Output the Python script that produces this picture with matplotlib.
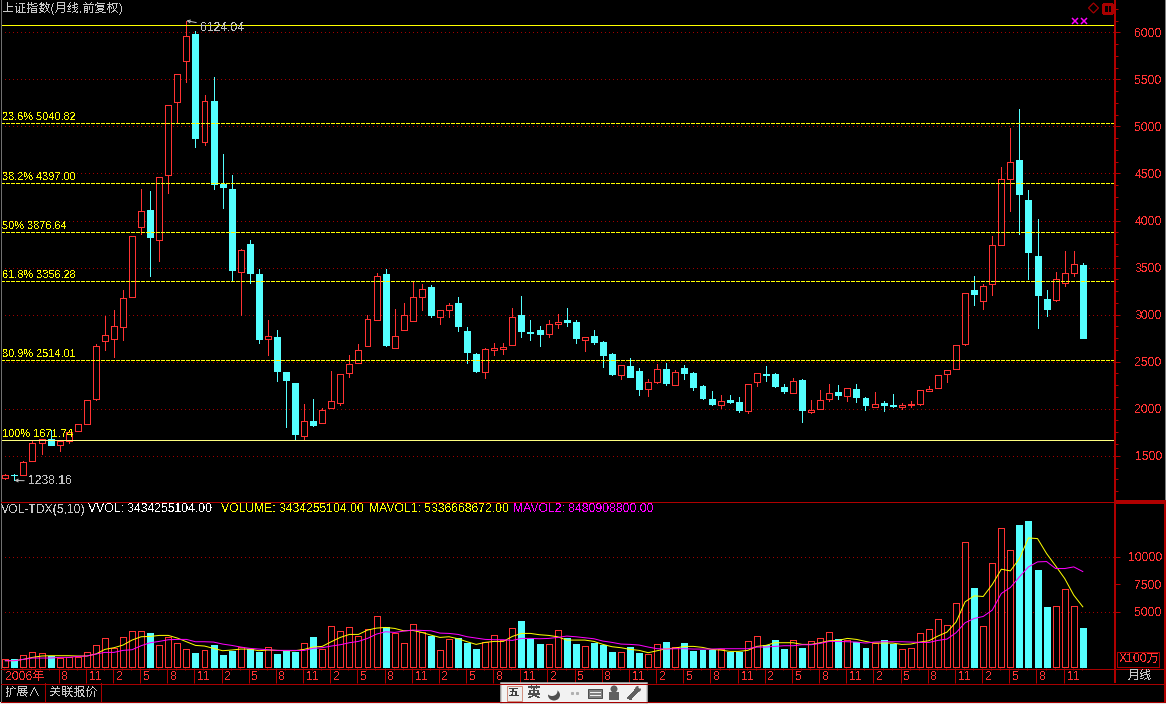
import matplotlib
matplotlib.use("Agg")
import matplotlib.pyplot as plt
from matplotlib.lines import Line2D
from matplotlib.patches import Rectangle, Ellipse, Circle, Polygon

OPEN = [1262,1300,1298,1447,1638,1680,1617,1659,1766,1840,2106,2723,2744,2872,3191,3932,4117,3798,4489,5255,
        5691,5982,4837,5269,4393,4333,3453,3748,3429,2741,2758,2386,2269,1712,1865,1847,2007,2060,2379,2485,
        2666,2946,3429,2645,2836,2932,3187,3290,2975,3049,3120,2822,2578,2390,2628,2634,2677,2992,2817,2833,
        2794,2900,2939,2918,2730,2769,2705,2578,2358,2450,2397,2209,2283,2418,2251,2429,2375,2237,2099,2039,
        2088,2067,1975,2283,2372,2365,2226,2166,2301,1964,1996,2106,2173,2134,2205,2109,2017,2056,2035,2021,
        2040,2049,2187,2219,2368,2421,2687,3258,3148,3326,3741,4443,4641,4216,3620,3163,3156,3336,3443,3531]
HIGH = [1306,1310,1440,1663,1680,1769,1670,1765,1840,2095,2691,2982,3046,3266,3840,4330,4312,4464,5223,5553,
        6124.04,6014,5333,5521,4705,4482,3695,3790,3489,2939,2833,2386,2269,2046,2099,2010,2397,2372,2567,2684,
        2993,3446,3482,3056,3120,3358,3322,3312,3053,3120,3184,2865,2595,2650,2695,2695,3067,3195,2939,2875,
        2939,3003,3067,2939,2765,2833,2716,2588,2468,2535,2429,2312,2471,2482,2407,2460,2386,2248,2184,2141,
        2141,2120,2266,2383,2450,2375,2258,2322,2311,2088,2195,2258,2248,2223,2258,2120,2173,2077,2152,2056,
        2077,2202,2237,2361,2414,2680,3234,3407,3322,3833,4567,4982,5184,4322,4014,3258,3450,3673,3673,3546]
LOW = [1258,1238.16,1298,1447,1514,1613,1549,1634,1766,1840,2088,2620,2549,2727,3191,3861,3407,3567,4294,5042,
       5475,4783,4801,4333,4134,3365,2993,3336,2698,2567,2294,1805,1664,1680,1815,1847,2007,2039,2336,2485,
       2666,2946,2663,2645,2836,2932,3046,2975,2897,2975,2822,2485,2386,2326,2567,2578,2677,2758,2726,2663,
       2758,2854,2875,2695,2609,2684,2439,2354,2312,2333,2141,2131,2269,2248,2251,2312,2195,2099,2035,2003,
       2056,1961,1953,2237,2290,2226,2163,2166,1854,1953,1996,2077,2099,2077,2067,1982,2017,1971,2014,1996,
       2014,2035,2187,2219,2280,2421,2677,3099,3056,3205,3741,4099,3854,3375,2854,2982,3141,3304,3407,2748]
CLOSE = [1298,1298,1436,1638,1673,1613,1659,1751,1840,2095,2670,2787,2883,3180,3840,4106,3826,4464,5223,5553,
         5957,4879,5266,4393,4358,3471,3691,3443,2741,2776,2400,2305,1730,1868,1822,1989,2085,2372,2475,2627,
         2957,3414,2673,2776,3000,3191,3276,2992,3053,3106,2875,2599,2397,2638,2640,2659,2978,2822,2807,2790,
         2904,2925,2918,2748,2765,2705,2567,2365,2468,2333,2205,2287,2425,2269,2393,2375,2226,2109,2046,2085,
         2067,1982,2266,2383,2362,2237,2184,2297,1982,1989,2095,2170,2141,2223,2120,2035,2053,2035,2024,2042,
         2046,2202,2212,2361,2414,2680,3234,3216,3308,3744,4446,4617,4280,3663,3205,3056,3382,3446,3542,2748]
VOLUME = [667,667,1030,1364,1212,1000,788,879,909,1364,1939,2576,1667,2667,3212,3212,3060,1970,2667,2121,
          1576,1242,1485,1970,1060,1454,1757,1606,1364,1757,1151,1394,1364,2121,2697,1606,3666,3212,3575,2757,
          3394,4575,3590,3060,2121,3878,3181,2787,1485,2485,2636,2181,1606,2272,2848,2394,3484,4151,2515,2060,
          2030,3303,2575,2060,1848,2151,2000,1333,1303,1757,1242,1121,2030,2242,1757,2151,1424,1515,1515,1575,
          1363,1333,2303,2757,1970,2424,1606,2394,1697,2303,2576,3121,2485,2424,2272,1697,2121,2424,2091,1576,
          1667,3030,3394,4303,3757,5757,11393,7151,3666,9484,12666,10666,12878,13241,8787,5424,5484,7121,5484,3515]
MAVOL1 = [545,545,667,848,970,1000,1000,1000,970,970,1151,1576,1727,1970,2424,2727,2757,2848,2848,2606,
          2272,1939,1879,1667,1454,1515,1606,1606,1454,1515,1485,1454,1454,1576,1788,1848,2272,2667,2939,2939,
          3333,3515,3575,3485,3272,3303,3121,2879,2666,2727,2545,2272,2030,2212,2303,2303,2757,3030,3030,2909,
          2848,2727,2424,2424,2424,2303,2030,1818,1727,1576,1485,1273,1454,1636,1697,1848,1848,1757,1576,1515,
          1394,1394,1485,1848,1939,2182,2182,2182,2030,2030,2182,2363,2394,2576,2485,2303,2151,2151,2151,2030,
          2060,2242,2363,2788,3151,4060,5909,6454,6393,7484,8878,8726,9848,11726,11666,10302,9181,8030,6515,5454]
MAVOL2 = [545,545,667,788,788,788,848,848,939,970,1151,1303,1303,1485,1545,1909,2182,2303,2454,2485,
          2485,2272,2272,2242,2060,1939,1788,1667,1606,1545,1485,1485,1485,1485,1667,1727,1879,2000,2182,2303,
          2576,2969,3181,3121,3242,3333,3303,3272,3060,3030,2939,2727,2606,2485,2454,2454,2394,2575,2575,2545,
          2575,2666,2788,2727,2636,2545,2333,2212,2060,2030,1970,1788,1636,1606,1636,1636,1606,1606,1606,1636,
          1636,1636,1636,1788,1788,1848,1909,1909,2000,2000,2121,2303,2303,2272,2242,2151,2242,2272,2272,2272,
          2242,2212,2212,2394,2515,3091,4000,4394,4575,5151,6666,7212,8181,9090,9545,9575,8939,8939,9090,8666]
FIB_LABELS = ["23.6% 5040.82", "38.2% 4397.00", "50% 3876.64", "61.8% 3356.28", "80.9% 2514.01"]
FIB_LEVELS = [5040.82, 4397.00, 3876.64, 3356.28, 2514.01]
BASE_LABEL = "100% 1671.74"
BASE_LEVEL = 1671.74
TOP_LEVEL = 6081.55
PEAK_LABEL = 6124.04
TROUGH_LABEL = 1238.16
PRICE_TICKS = [1500, 2000, 2500, 3000, 3500, 4000, 4500, 5000, 5500, 6000]
VOL_TICKS = [5000, 7500, 10000]
VOL_GRID = [5000, 10000]
MONTH_CYCLE = ["8", "11", "2", "5"]

W, H = 1166, 704
BLACK = "#000000"; RED = "#ff3232"; CYAN = "#54ffff"; FRAME = "#a80000"; AXRED = "#b00000"
GRID = "#a00000"; YEL = "#ffff00"; MAG = "#ff00ff"; GRAY = "#c0c0c0"
PX = 0.72  # one pixel in points at dpi 100

plt.rcParams["font.family"] = ["Liberation Sans", "Noto Sans CJK SC", "DejaVu Sans"]
plt.rcParams["text.antialiased"] = False
plt.rcParams["lines.dash_capstyle"] = "butt"

fig = plt.figure(figsize=(W / 100, H / 100), dpi=100, facecolor=BLACK)

def axes_px(l, t, r, b):
    return fig.add_axes([l / W, 1 - b / H, (r - l) / W, (b - t) / H], facecolor=BLACK)

XL = (-0.475, 122.5)
ax = axes_px(1, 0, 1114.5, 501.5)
av = axes_px(1, 502, 1114.5, 668)
ax.set_xlim(*XL); av.set_xlim(*XL)
ax.set_ylim(1014, 6343.6)
av.set_ylim(-120, 15000)

n = len(OPEN)
xs = list(range(n))
for a in (ax, av):
    for s in a.spines.values():
        s.set_visible(False)
    a.set_xticks([])

def style_y(a, ticks, minor):
    a.yaxis.tick_right()
    a.set_yticks(ticks)
    a.set_yticklabels([str(t) for t in ticks], fontsize=8.7, color=RED)
    a.tick_params(axis="y", which="major", length=3.6, width=PX, color=AXRED, pad=30.6)
    for lb in a.get_yticklabels():
        lb.set_ha("right")
    if minor:
        a.set_yticks(minor, minor=True)
        a.tick_params(axis="y", which="minor", length=2.0, width=PX, color=AXRED)

minor_levels = [1125 + 125 * k for k in range(42) if (1125 + 125 * k) % 500 != 0]
style_y(ax, PRICE_TICKS, minor_levels)
style_y(av, VOL_TICKS, None)

# grid
for p in PRICE_TICKS:
    ax.axhline(p, color=GRID, lw=PX, ls=(0, (1, 3)), zorder=1, antialiased=False)
for v in VOL_GRID:
    av.axhline(v, color=GRID, lw=PX, ls=(0, (1, 3)), zorder=1, antialiased=False)

# candles
up = [c >= o for o, c in zip(OPEN, CLOSE)]
colors = [RED if u else CYAN for u in up]
fills = [BLACK if u else CYAN for u in up]
ax.vlines(xs, LOW, HIGH, colors=colors, lw=PX, zorder=2, antialiased=False)
ax.bar(xs, [abs(c - o) for o, c in zip(OPEN, CLOSE)], bottom=[min(o, c) for o, c in zip(OPEN, CLOSE)],
       width=0.66, color=fills, edgecolor=colors, lw=PX, zorder=3, antialiased=False)

# fibonacci levels
for lab, lev in zip(FIB_LABELS, FIB_LEVELS):
    ax.axhline(lev, color=YEL, lw=PX, ls=(0, (4, 2)), zorder=4, antialiased=False)
    ax.annotate(lab, xy=(0, lev), xycoords=("axes fraction", "data"), xytext=(1, 1), textcoords="offset pixels",
                color=YEL, fontsize=7.9, va="bottom", ha="left", zorder=6)
ax.axhline(BASE_LEVEL, color="#ffff80", lw=PX, zorder=4, antialiased=False)
ax.annotate(BASE_LABEL, xy=(0, BASE_LEVEL), xycoords=("axes fraction", "data"), xytext=(1, 1),
            textcoords="offset pixels", color=YEL, fontsize=7.9, va="bottom", ha="left", zorder=6)
ax.axhline(TOP_LEVEL, color=YEL, lw=PX, zorder=4, antialiased=False)

# extreme labels
ap = dict(arrowstyle="->", color=GRAY, lw=PX, mutation_scale=5, shrinkA=1, shrinkB=0)
ax.annotate(f"{PEAK_LABEL:.2f}", xy=(20, PEAK_LABEL), xytext=(14, -7), textcoords="offset pixels", color=GRAY,
            fontsize=8.7, va="center", ha="left", arrowprops=ap, zorder=6)
ax.annotate(f"{TROUGH_LABEL:.2f}", xy=(1, TROUGH_LABEL), xytext=(14, -1), textcoords="offset pixels", color=GRAY,
            fontsize=8.7, va="center", ha="left", arrowprops=ap, zorder=6)

# volume
av.bar(xs, VOLUME, width=0.66, color=fills, edgecolor=colors, lw=PX, zorder=3, antialiased=False)
av.plot(xs, MAVOL1, color=YEL, lw=PX, zorder=4)
av.plot(xs, MAVOL2, color=MAG, lw=PX, zorder=5)

# month labels and ticks on the band under the volume panel
av.set_xticks([i - 0.12 for i in xs], minor=True)
av.tick_params(axis="x", which="minor", length=1.6, width=PX, color=AXRED, bottom=True)
label_idx = [0] + list(range(6, n, 3))
label_txt = ["2006年"] + [MONTH_CYCLE[k % 4] for k in range(len(label_idx) - 1)]
av.set_xticks([i - 0.12 for i in label_idx[1:]])
av.set_xticklabels([])
av.tick_params(axis="x", which="major", length=10.8, width=PX, color=AXRED, bottom=True)
for i, t in zip(label_idx, label_txt):
    av.annotate(t, xy=(i, 0), xycoords=("data", "axes fraction"), xytext=(0 if i == 0 else 2, -3),
                textcoords="offset pixels", color=RED, fontsize=8.7, va="top", ha="left", annotation_clip=False)

# interface chrome on a full-figure overlay in pixel coordinates
ui = fig.add_axes([0, 0, 1, 1], facecolor="none", zorder=10)
ui.set_xlim(0, W); ui.set_ylim(H, 0); ui.axis("off")

def ln(x0, y0, x1, y1, c=FRAME, w=1.0):
    ui.add_line(Line2D([x0, x1], [y0, y1], color=c, lw=w * PX, antialiased=False, solid_capstyle="butt"))

def tx(x, y, s, c=GRAY, size=8.7, **kw):
    ui.text(x, y, s, color=c, fontsize=size, va="center", ha=kw.pop("ha", "left"), **kw)

ln(0.5, 0, 0.5, 702, "#707070", 1)
ln(1114.5, 0, 1114.5, 502, AXRED, 1.5)
ln(1114.5, 502, 1114.5, 683, AXRED, 2)
ln(1165.2, 0, 1165.2, 501, "#808080", 1)
ln(1165, 501, 1165, 702, AXRED, 2)
ln(1, 501.5, 1114, 501.5, AXRED, 1)
ln(1114, 501.5, 1166, 501.5, AXRED, 2.5)
ln(1, 668.5, 1166, 668.5, FRAME, 1)
ln(1, 683.5, 1166, 683.5, FRAME, 1)
ln(1, 701.5, 1166, 701.5, FRAME, 1)
ln(44.5, 683, 44.5, 701, FRAME, 1)
ln(100.5, 683, 100.5, 701, FRAME, 1)
ui.add_patch(Rectangle((0, 702.2), W, 2, facecolor="#e8e8e8", edgecolor="none", antialiased=False))

tx(2, 8.5, "上证指数(月线,前复权)", "#c8c8c8", 8.7)
tx(1, 509.5, "VOL-TDX(5,10)", "#c8c8c8")
tx(88, 509.5, "VVOL: 3434255104.00", "#ffffff")
tx(221, 509.5, "VOLUME: 3434255104.00", YEL)
tx(369, 509.5, "MAVOL1: 5336668672.00", YEL)
tx(513, 509.5, "MAVOL2: 8480908800.00", MAG)
tx(5, 692.5, "扩展∧", "#c8c8c8")
tx(49, 692.5, "关联报价", "#c8c8c8")
tx(1128, 676, "月线", "#c8c8c8")
tx(1119, 658.5, "X100万", RED)
ui.add_patch(Rectangle((1116.5, 651.5), 42, 15, fill=False, edgecolor=FRAME, lw=PX, antialiased=False))

# top-right markers
ui.add_patch(Polygon([(1093.5, 3), (1098.5, 8), (1093.5, 13), (1088.5, 8)], fill=False, edgecolor=FRAME, lw=PX * 1.2))
ui.add_patch(Rectangle((1102.5, 3.5), 9.5, 9.5, fill=False, edgecolor=FRAME, lw=PX * 1.4, antialiased=False))
ln(1107.5, 3.5, 1107.5, 13, FRAME, 1)
for xm in (1074.5, 1083.5):
    ui.plot([xm], [20.5], marker="x", ms=4.5, mew=1.5 * PX, color=MAG, ls="none")

# floating toolbar
ui.add_patch(Rectangle((500.5, 682.5), 146, 21, facecolor="#f2f2f2", edgecolor="#c4c4c4", lw=PX * 1.5))
ui.add_patch(Rectangle((506.5, 685.5), 15, 15, facecolor="#eeeeee", edgecolor="#d09080", lw=PX))
tx(514, 693, "五", "#404040", 8, ha="center", fontweight="bold")
tx(534, 693, "英", "#505050", 10, ha="center", fontweight="bold")
ui.add_patch(Ellipse((554, 695), 12, 11, facecolor="#505050", edgecolor="none"))
ui.add_patch(Ellipse((552, 691), 11, 10, facecolor="#f2f2f2", edgecolor="none"))
ui.plot([572, 577], [693, 693], ls="none", marker="s", ms=1.2, color="#b0b0b0")
ui.add_patch(Rectangle((588, 689), 14, 9, facecolor="#808080", edgecolor="#505050", lw=PX))
ln(590, 691.5, 600, 691.5, "#f2f2f2", 1)
ln(590, 694.5, 600, 694.5, "#f2f2f2", 1)
ui.add_patch(Circle((614, 689), 3.5, facecolor="#606060", edgecolor="none"))
ui.add_patch(Rectangle((609, 692), 10, 7.5, facecolor="#606060", edgecolor="none"))
ln(629, 699, 637, 690, "#606060", 3)
ui.add_patch(Circle((638, 689), 3, facecolor="#606060", edgecolor="none"))
ui.add_patch(Circle((640, 687), 1.6, facecolor="#f2f2f2", edgecolor="none"))

fig.savefig("out.png", dpi=100, facecolor=BLACK)
